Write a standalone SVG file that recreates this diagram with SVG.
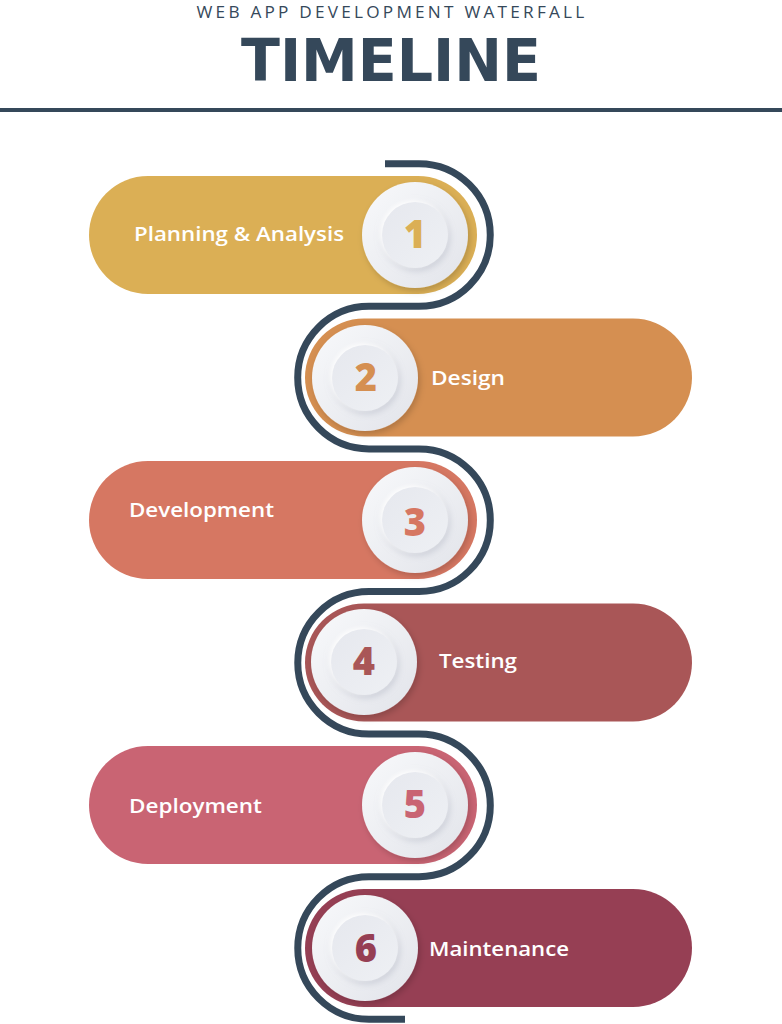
<svg xmlns="http://www.w3.org/2000/svg" width="782" height="1024" viewBox="0 0 782 1024">
<defs>
<style>
.sub{font-family:"Open Sans","Liberation Sans",sans-serif;font-size:16px;fill:#35485a;letter-spacing:3px}
.title{font-family:"DejaVu Sans","Liberation Sans",sans-serif;font-weight:bold;font-size:59px;fill:#35485a}
.lbl{font-family:"Open Sans","Liberation Sans",sans-serif;font-weight:600;font-size:19px;fill:#ffffff}
.num{font-family:"Open Sans","DejaVu Sans",sans-serif;font-weight:800;font-size:38px;text-anchor:middle}
.outer{fill:url(#gOuter);filter:url(#sh)}
.inner{fill:url(#gInner);filter:url(#sh2)}
.track{fill:none;stroke:#35485a;stroke-width:7}
</style>
<linearGradient id="gOuter" x1="0" y1="0" x2="1" y2="1">
<stop offset="0" stop-color="#f8f9fb"/>
<stop offset="1" stop-color="#e2e4ea"/>
</linearGradient>
<linearGradient id="gInner" x1="0" y1="0" x2="1" y2="1">
<stop offset="0" stop-color="#e6e8ee"/>
<stop offset="1" stop-color="#eef0f4"/>
</linearGradient>
<filter id="sh" x="-30%" y="-30%" width="160%" height="160%">
<feDropShadow dx="2" dy="3" stdDeviation="3" flood-color="#000" flood-opacity="0.18"/>
</filter>
<filter id="sh2" x="-30%" y="-30%" width="160%" height="160%">
<feDropShadow dx="-2" dy="-2" stdDeviation="2" flood-color="#ffffff" flood-opacity="0.9"/>
<feDropShadow dx="2" dy="3" stdDeviation="3" flood-color="#9aa0b0" flood-opacity="0.35"/>
</filter>
</defs>
<rect width="782" height="1024" fill="#ffffff"/>
<g id="header">
<text class="sub" x="392" y="18" text-anchor="middle" textLength="391" lengthAdjust="spacingAndGlyphs">WEB APP DEVELOPMENT WATERFALL</text>
<text class="title" x="391" y="81" text-anchor="middle" textLength="300" lengthAdjust="spacingAndGlyphs">TIMELINE</text>
<line x1="0" y1="110" x2="782" y2="110" stroke="#35485a" stroke-width="4"/>
</g>
<g id="connectors">
<path class="track" d="M385,163.7 H419 A71.3 71.3 0 0 1 419,306.3 H369 A71.3 71.3 0 0 0 369,448.9 H419 A71.3 71.3 0 0 1 419,591.5 H369 A71.3 71.3 0 0 0 369,734.1 H419 A71.3 71.3 0 0 1 419,876.7 H369 A71.3 71.3 0 0 0 369,1019.3 H405"/>
</g>
<g id="step1">
<rect x="89" y="176" width="388" height="118" rx="59" fill="#dbaf55"/>
<text class="lbl" x="134" y="241" textLength="210" lengthAdjust="spacingAndGlyphs">Planning &amp; Analysis</text>
<circle class="outer" cx="415" cy="235" r="53"/>
<circle class="inner" cx="415" cy="235" r="33"/>
<text class="num" x="415" y="248" fill="#dbaf55">1</text>
</g>
<g id="step2">
<rect x="305" y="318.5" width="387" height="118" rx="59" fill="#d58f51"/>
<text class="lbl" x="431" y="385" textLength="74" lengthAdjust="spacingAndGlyphs">Design</text>
<circle class="outer" cx="365" cy="378" r="53"/>
<circle class="inner" cx="365" cy="378" r="33"/>
<text class="num" x="366" y="391" fill="#d58f51">2</text>
</g>
<g id="step3">
<rect x="89" y="461" width="388" height="118" rx="59" fill="#d67762"/>
<text class="lbl" x="129" y="517" textLength="145" lengthAdjust="spacingAndGlyphs">Development</text>
<circle class="outer" cx="415" cy="520" r="53"/>
<circle class="inner" cx="415" cy="520" r="33"/>
<text class="num" x="415" y="536" fill="#d67762">3</text>
</g>
<g id="step4">
<rect x="305" y="603.5" width="387" height="118" rx="59" fill="#a95657"/>
<text class="lbl" x="439" y="668" textLength="78" lengthAdjust="spacingAndGlyphs">Testing</text>
<circle class="outer" cx="364" cy="662" r="53"/>
<circle class="inner" cx="364" cy="662" r="33"/>
<text class="num" x="364" y="675" fill="#a95657">4</text>
</g>
<g id="step5">
<rect x="89" y="746" width="388" height="118" rx="59" fill="#c96473"/>
<text class="lbl" x="129" y="813" textLength="133" lengthAdjust="spacingAndGlyphs">Deployment</text>
<circle class="outer" cx="415" cy="805" r="53"/>
<circle class="inner" cx="415" cy="805" r="33"/>
<text class="num" x="415" y="818" fill="#c96473">5</text>
</g>
<g id="step6">
<rect x="305" y="889" width="387" height="118" rx="59" fill="#963f54"/>
<text class="lbl" x="429" y="956" textLength="140" lengthAdjust="spacingAndGlyphs">Maintenance</text>
<circle class="outer" cx="365" cy="948" r="53"/>
<circle class="inner" cx="365" cy="948" r="33"/>
<text class="num" x="366" y="962" fill="#963f54">6</text>
</g>
</svg>
